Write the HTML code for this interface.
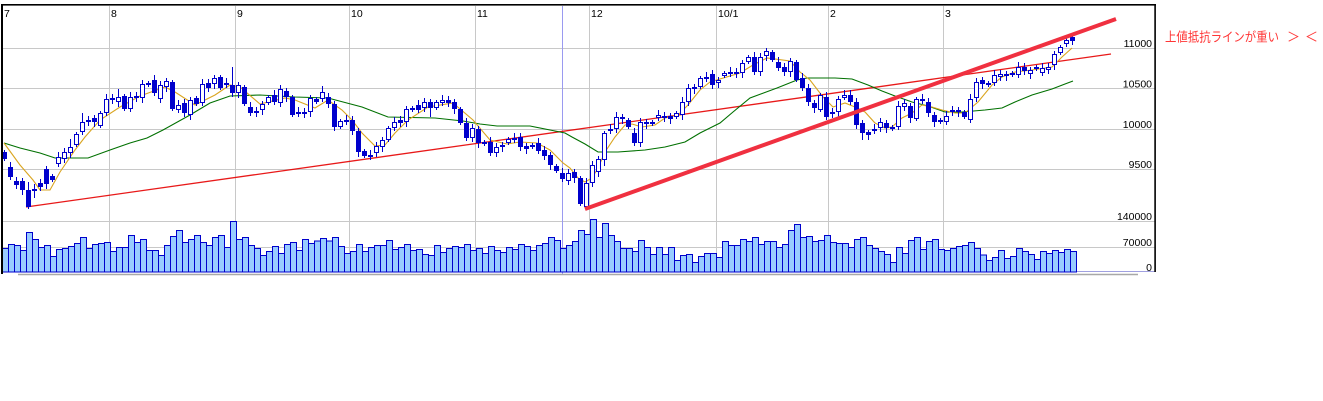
<!DOCTYPE html>
<html><head><meta charset="utf-8">
<style>
html,body{margin:0;padding:0;background:#fff;}
svg{display:block;}
</style></head>
<body>
<svg id="c" width="1323" height="401" xmlns="http://www.w3.org/2000/svg">
<rect width="1323" height="401" fill="#fff"/>
<g stroke="#c8c8c8" stroke-width="1" shape-rendering="crispEdges">
  <line x1="3" y1="48.5" x2="1155" y2="48.5"/>
  <line x1="3" y1="88.5" x2="1155" y2="88.5"/>
  <line x1="3" y1="129.5" x2="1155" y2="129.5"/>
  <line x1="3" y1="169.5" x2="1155" y2="169.5"/>
  <line x1="3" y1="221.5" x2="1155" y2="221.5"/>
  <line x1="3" y1="247.5" x2="1155" y2="247.5"/>
  <line x1="109.5" y1="6" x2="109.5" y2="272"/>
  <line x1="235.5" y1="6" x2="235.5" y2="272"/>
  <line x1="349.5" y1="6" x2="349.5" y2="272"/>
  <line x1="475.5" y1="6" x2="475.5" y2="272"/>
  <line x1="589.5" y1="6" x2="589.5" y2="272"/>
  <line x1="716.5" y1="6" x2="716.5" y2="272"/>
  <line x1="828.5" y1="6" x2="828.5" y2="272"/>
  <line x1="943.5" y1="6" x2="943.5" y2="272"/>
</g>
<line x1="562.5" y1="6" x2="562.5" y2="274" stroke="#9a9af0" stroke-width="1" shape-rendering="crispEdges"/>
<line x1="2" y1="271.5" x2="1155" y2="271.5" stroke="#a0a0e0" stroke-width="1" shape-rendering="crispEdges"/>
<line x1="18" y1="274.5" x2="1138" y2="274.5" stroke="#a8a8a8" stroke-width="1.5"/>
<g id="vol" shape-rendering="crispEdges"></g>
<polyline fill="none" stroke="#e60000" stroke-width="1.3" points="26,207 1111,54" opacity="0.9"/>
<polyline fill="none" stroke="#007000" stroke-width="1.1" points="4,143 20,148 40,153 55,158 88,158 110,150 130,143 147,138 163,130 190,115 210,103 230,96 260,95 295,97 328,98 362,107 388,117 435,118 463,121 480,124 497,126 530,126 550,130 565,133 572,137 585,144 598,152 618,152 645,150 665,147 685,142 700,133 720,123 733,112 750,98 777,88 797,80 807,78 835,78 852,79 868,85 882,91 895,96 912,102 928,106 945,112 962,112 985,110 1002,108 1015,102 1032,95 1052,89 1065,84 1073,81"/>
<polyline fill="none" stroke="#daa520" stroke-width="1.1" points="4,143 20,165 33,180 40,190 50,190 60,172 75,150 85,137 100,120 120,107 140,96 165,87 175,92 195,105 215,95 230,85 240,87 260,104 285,98 295,100 315,108 328,100 342,110 352,120 362,133 375,146 385,145 395,133 408,120 428,107 453,103 473,120 490,140 507,144 520,142 537,143 550,150 563,163 570,168 578,178 585,182 592,178 598,168 605,152 615,137 625,125 632,124 642,127 655,125 665,118 678,115 688,105 700,90 710,82 740,73 753,65 767,58 790,61 800,72 810,80 823,97 833,107 845,103 855,107 865,112 875,123 885,128 892,127 902,118 912,113 922,105 932,107 942,110 955,113 965,113 978,102 992,85 1002,77 1015,72 1032,70 1052,67 1062,57 1072,48"/>
<g id="cdl" shape-rendering="crispEdges"></g>
<line x1="585" y1="209" x2="1116" y2="19" stroke="#f03040" stroke-width="4"/>
<rect x="1" y="5" width="2" height="269" fill="#000"/>
<rect x="1" y="4" width="1155" height="1.6" fill="#000"/>
<rect x="1154.3" y="4" width="1.6" height="268" fill="#000"/>
<g font-family="Liberation Sans, sans-serif" font-size="10.5" fill="#000">
  <text x="4" y="17">7</text>
  <text x="111" y="17">8</text>
  <text x="237" y="17">9</text>
  <text x="351" y="17">10</text>
  <text x="477" y="17">11</text>
  <text x="591" y="17">12</text>
  <text x="718" y="17">10/1</text>
  <text x="830" y="17">2</text>
  <text x="945" y="17">3</text>
</g>
<g font-family="Liberation Sans, sans-serif" font-size="10.5" fill="#000" text-anchor="end">
  <text x="1152" y="47">11000</text>
  <text x="1152" y="87.5">10500</text>
  <text x="1152" y="128">10000</text>
  <text x="1152" y="168">9500</text>
  <text x="1152" y="220">140000</text>
  <text x="1152" y="246">70000</text>
  <text x="1152" y="271">0</text>
</g>
<g font-family="'Noto Sans CJK JP', sans-serif" font-size="13" fill="#ff3535">
  <text x="1165" y="41.5" textLength="114" lengthAdjust="spacingAndGlyphs">上値抵抗ラインが重い</text>
  <text x="1287" y="41.5">＞</text>
  <text x="1305" y="41.5">＜</text>
</g>
</svg>
<script>
var C=[[152,159,1],[167,177,1],[181,185,1],[181,190,1],[190,207,1],[189,191,0],[183,187,1],[169,184,1],[176,180,1],[157,164,0],
[152,159,0],[147,153,0],[134,145,0],[122,132,0],[120,122,0],[118,122,1],[113,126,0],[99,113,0],[98,100,0],[97,102,0],
[96,109,1],[97,109,0],[96,98,1],[84,98,0],[83,85,0],[80,93,1],[85,99,0],[81,87,0],[82,109,1],[105,110,0],
[103,113,1],[100,115,0],[98,104,1],[84,103,0],[83,88,1],[78,84,0],[77,88,1],[83,85,0],[85,93,1],[85,93,0],
[87,104,1],[107,113,1],[111,113,1],[104,110,0],[97,103,0],[95,102,1],[89,103,0],[91,97,1],[97,115,1],[112,114,1],
[112,113,0],[98,112,0],[99,102,1],[92,99,0],[97,104,1],[104,127,1],[121,127,0],[120,122,1],[120,131,1],[131,152,1],
[151,156,1],[155,156,0],[146,153,0],[140,147,0],[128,140,0],[122,128,0],[120,123,1],[109,122,0],[108,110,0],[105,110,1],
[102,108,0],[102,108,1],[102,108,0],[100,103,0],[100,103,1],[102,109,1],[109,123,1],[123,138,1],[128,138,0],[129,143,1],
[142,143,0],[142,153,1],[147,153,0],[145,147,0],[139,143,0],[138,140,0],[137,147,1],[146,149,1],[145,147,0],[143,151,1],
[150,156,1],[155,165,1],[166,171,1],[173,179,1],[173,181,0],[172,178,1],[178,204,1],[183,207,0],[165,183,0],[159,172,0],
[133,160,0],[129,131,0],[117,129,0],[117,119,1],[120,127,1],[133,143,1],[122,143,0],[122,123,0],[122,124,1],[115,118,0],
[116,118,0],[116,119,1],[113,117,0],[102,115,0],[88,102,0],[87,89,0],[78,87,0],[77,78,0],[74,85,1],[80,83,0],
[73,76,0],[72,73,0],[72,73,0],[63,73,0],[57,62,0],[57,72,1],[57,72,0],[51,56,0],[52,60,1],[62,68,1],
[67,72,1],[61,72,0],[62,80,1],[78,88,1],[88,102,1],[103,108,1],[95,110,0],[97,117,1],[112,113,0],[99,112,0],
[95,98,0],[95,102,1],[102,125,1],[123,133,1],[132,135,1],[129,131,0],[122,128,0],[123,128,1],[127,129,0],[106,127,0],
[103,107,0],[106,118,1],[99,119,0],[99,101,1],[102,113,1],[115,122,1],[120,122,0],[116,122,0],[110,112,0],[110,112,0],
[112,117,1],[99,120,0],[82,98,0],[80,84,1],[83,84,0],[75,83,0],[74,77,0],[74,76,0],[73,75,1],[67,75,0],
[67,71,1],[70,74,0],[67,69,1],[68,73,0],[67,70,0],[54,65,0],[47,53,0],[40,44,0],[37,41,1]];
var V=[248.3,244.3,245.7,250.7,232.3,239.3,247.3,245.7,256.7,249.3,248.3,246.7,243.7,237.3,248.3,244.3,243.7,242.3,251.7,247.3,247.3,235.3,242.3,239.3,250.3,250.3,255.3,245.3,236.3,230.3,242.7,239.3,235.3,242.7,245.3,237.3,235.3,247.3,221.3,239.3,237.3,245.3,248.3,255.3,251.3,246.3,253.3,244.3,242.3,250.3,
239.3,243.3,241,238.3,241,237.3,246.7,253.3,251.3,244.3,251.3,247.3,245.3,245.3,240.3,249.3,247.3,244.3,250.3,249.3,254.3,255.3,245.3,
252.3,248.3,246.3,247.3,244.3,250.3,248.3,253.3,246.3,250.3,252.3,247.3,249.3,244.3,246.3,250.3,245.3,243.3,237.3,240.3,248.3,245.3,
241.3,230.3,234.3,219.3,237.3,223.3,235.3,241.3,248.3,248.3,251.3,240.3,247.3,254.3,247.3,254.3,247.3,260.3,255.3,254.3,262.3,256.3,253.3,
253.3,257.3,241.3,245.3,245.3,239.3,241.3,237.3,244.3,241.3,241.3,247.3,244.3,230.3,224.3,237.3,236.3,241.3,240.3,235.3,242.3,243.3,
243.3,247.3,239.3,237.3,245.3,248.3,251.3,254.3,262.3,247.3,253.3,240.3,237.3,249.3,241.3,239.3,249.3,250.3,248.3,246.3,245.3,242.3,
248.3,255,260.3,257.3,250.3,258.3,256.3,248.3,251.3,254.3,259.3,251.3,253.3,250.3,252.3,249.3,251.3];
var W={4:[182,0],5:[0,198],11:[139,0],13:[113,0],19:[89,0],23:[80,0],31:[0,120],38:[67,0],53:[86,0],55:[0,131],71:[0,117],96:[0,206],97:[0,209],100:[0,166],102:[112,0],113:[0,120],140:[90,0],143:[0,140],144:[0,140],161:[0,123]};
var s='';
for(var i=0;i<V.length;i++){
  var x=2.5+6*i;
  s+='<rect x="'+x+'" y="'+V[i]+'" width="6" height="'+(272-V[i]).toFixed(1)+'" fill="#99ccff" stroke="#0000cc" stroke-width="1"/>';
}
document.getElementById('vol').innerHTML=s;
s='';
for(var i=0;i<C.length;i++){
  var c=C[i],t=c[0],b=c[1];
  if(b-t<2)b=t+2;
  var cx=4+6*i;
  var wt=t-2-(i*7%4), wb=b+2+(i*5%4);
  if(W[i]){if(W[i][0])wt=W[i][0];if(W[i][1])wb=W[i][1];}
  s+='<line x1="'+(cx+0.5)+'" y1="'+wt+'" x2="'+(cx+0.5)+'" y2="'+wb+'" stroke="#0000cc" stroke-width="1"/>';
  if(c[2]) s+='<rect x="'+(cx-2)+'" y="'+t+'" width="5" height="'+(b-t)+'" fill="#0000cc"/>';
  else s+='<rect x="'+(cx-1.5)+'" y="'+(t+0.5)+'" width="4" height="'+Math.max(b-t-1,1)+'" fill="#fff" stroke="#0000cc" stroke-width="1"/>';
}
document.getElementById('cdl').innerHTML=s;
</script>
</body></html>
